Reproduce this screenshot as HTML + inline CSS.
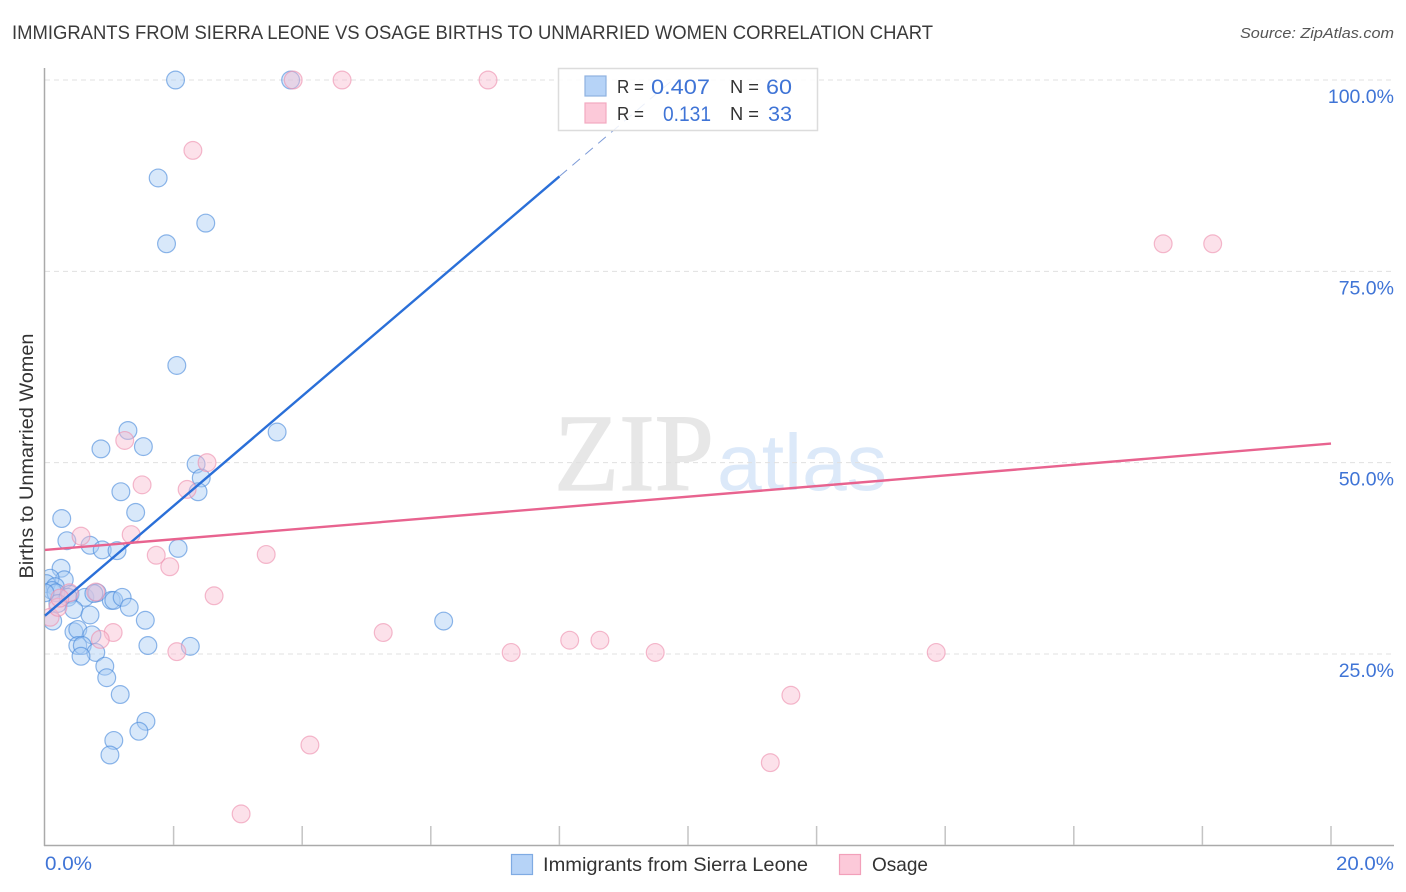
<!DOCTYPE html>
<html lang="en">
<head>
<meta charset="utf-8">
<title>Immigrants from Sierra Leone vs Osage Births to Unmarried Women Correlation Chart</title>
<style>
html,body{margin:0;padding:0;background:#fff;width:1406px;height:892px;overflow:hidden}
svg{display:block}
text{font-family:"Liberation Sans",sans-serif}
</style>
</head>
<body>
<svg id="chart" width="1406" height="892" viewBox="0 0 1406 892">
  <defs>
    <clipPath id="plot-clip"><rect x="45" y="60" width="1349" height="786"/></clipPath>
  </defs>
  <text x="12" y="39" font-size="19" fill="#3a3a3a" textLength="921" lengthAdjust="spacingAndGlyphs">IMMIGRANTS FROM SIERRA LEONE VS OSAGE BIRTHS TO UNMARRIED WOMEN CORRELATION CHART</text>
  <text x="1394" y="38" font-size="15" font-style="italic" fill="#555" text-anchor="end" textLength="154" lengthAdjust="spacingAndGlyphs">Source: ZipAtlas.com</text>
  <g id="watermark">
    <text x="554" y="490" font-size="110" fill="#e7e7e7" stroke="#e7e7e7" stroke-width="1.2" textLength="160" lengthAdjust="spacingAndGlyphs" style="font-family:'Liberation Serif',serif">ZIP</text>
    <text x="717" y="490" font-size="80" fill="#dce9f9" textLength="170" lengthAdjust="spacingAndGlyphs" style="font-family:'Liberation Sans',sans-serif">atlas</text>
  </g>
  <g id="grid"></g>
  <g id="axes"></g>
  <g id="trend-back"></g>
  <g id="points-blue" clip-path="url(#plot-clip)"></g>
  <g id="points-pink" clip-path="url(#plot-clip)"></g>
  <g id="trend"></g>
  <g id="ylabels"></g>
  <text transform="translate(33,456) rotate(-90)" font-size="19" fill="#333" text-anchor="middle" textLength="245" lengthAdjust="spacingAndGlyphs">Births to Unmarried Women</text>
  <text x="45" y="870" font-size="19" fill="#3f74d6" textLength="47" lengthAdjust="spacingAndGlyphs">0.0%</text>
  <text x="1394" y="870" font-size="19" fill="#3f74d6" text-anchor="end" textLength="58" lengthAdjust="spacingAndGlyphs">20.0%</text>

  <g>
    <rect x="558.5" y="68.5" width="259" height="62" fill="#fff" fill-opacity="0.85" stroke="#dcdcdc" stroke-width="1.5"/>
    <rect x="585" y="76" width="21" height="20" fill="#b6d3f7" stroke="#8fb2e0" stroke-width="1.2"/>
    <rect x="585" y="103" width="21" height="20" fill="#fcc9d9" stroke="#f2a9c0" stroke-width="1.2"/>
    <text x="617" y="93" font-size="18.5" fill="#333" textLength="27" lengthAdjust="spacingAndGlyphs">R =</text>
    <text x="710" y="94" font-size="21.5" fill="#3f74d6" text-anchor="end" textLength="59" lengthAdjust="spacingAndGlyphs">0.407</text>
    <text x="730" y="93" font-size="18.5" fill="#333" textLength="29" lengthAdjust="spacingAndGlyphs">N =</text>
    <text x="792" y="94" font-size="21.5" fill="#3f74d6" text-anchor="end" textLength="26" lengthAdjust="spacingAndGlyphs">60</text>
    <text x="617" y="120" font-size="18.5" fill="#333" textLength="27" lengthAdjust="spacingAndGlyphs">R =</text>
    <text x="711" y="121" font-size="21.5" fill="#3f74d6" text-anchor="end" textLength="48" lengthAdjust="spacingAndGlyphs">0.131</text>
    <text x="730" y="120" font-size="18.5" fill="#333" textLength="29" lengthAdjust="spacingAndGlyphs">N =</text>
    <text x="792" y="121" font-size="21.5" fill="#3f74d6" text-anchor="end" textLength="24" lengthAdjust="spacingAndGlyphs">33</text>
  </g>

  <g>
    <rect x="511.5" y="854.5" width="21" height="20" fill="#b6d3f7" stroke="#7fabe3" stroke-width="1.2"/>
    <text x="543" y="871" font-size="19.5" fill="#333" textLength="265" lengthAdjust="spacingAndGlyphs">Immigrants from Sierra Leone</text>
    <rect x="839.5" y="854.5" width="21" height="20" fill="#fcc9d9" stroke="#f2a0ba" stroke-width="1.2"/>
    <text x="872" y="871" font-size="19.5" fill="#333" textLength="56" lengthAdjust="spacingAndGlyphs">Osage</text>
  </g>
</svg>
<script>
// Data values: x = share of group (%), y = births to unmarried women (%)
const sierraLeoneX = [2.03,3.82,1.76,1.89,2.50,2.05,3.61,1.29,0.87,1.53,2.35,2.43,2.38,1.18,1.41,0.26,0.34,0.70,0.89,1.12,2.07,0.25,0.30,0.08,0.02,0.16,0.11,0.17,0.39,0.36,0.20,0.62,0.81,0.76,1.03,1.07,1.20,1.31,0.45,0.70,1.56,0.12,6.20,0.45,0.51,0.73,0.51,0.58,1.60,2.26,0.79,0.56,0.93,0.96,1.17,1.57,1.46,1.07,1.01,0.00];
const sierraLeoneY = [100,100,87.2,78.6,81.3,62.7,54.0,54.2,51.8,52.1,49.8,48.0,46.2,46.2,43.5,42.7,39.8,39.2,38.6,38.5,38.8,36.2,34.7,34.9,34.2,33.8,33.3,33.0,32.8,32.4,31.6,32.4,33.0,32.9,32.0,32.0,32.4,31.1,30.8,30.1,29.4,29.3,29.3,27.9,28.2,27.5,26.1,26.1,26.1,26.0,25.2,24.7,23.4,21.9,19.7,16.2,14.9,13.7,11.8,33.0];
const osageX = [3.86,4.62,6.89,2.30,17.39,18.16,1.24,2.52,1.51,2.21,1.34,0.56,1.73,1.94,3.44,2.63,0.38,0.79,0.08,0.20,0.23,1.06,0.86,5.26,8.16,8.63,7.25,9.49,13.86,2.05,11.60,11.28,4.12,3.05];
const osageY = [100,100,100,90.8,78.6,78.6,52.9,50.0,47.1,46.5,40.6,40.4,37.9,36.4,38.0,32.6,33.0,33.1,29.8,31.1,32.3,27.8,26.9,27.8,26.8,26.8,25.2,25.2,25.2,25.3,19.6,10.8,13.1,4.1];
const sierraLeoneTrendX = [0, 8.0, 9.76];
const sierraLeoneTrendY = [30.0, 87.4, 100];
const osageTrendX = [0, 20];
const osageTrendY = [38.6, 52.5];
const yTicks = [25, 50, 75, 100];
const yTickLabels = ["25.0%", "50.0%", "75.0%", "100.0%"];
const xTicks = [2, 4, 6, 8, 10, 12, 14, 16, 18, 20];

const NS = "http://www.w3.org/2000/svg";
const xScale = v => 45 + v * 64.3;
const yScale = v => 845.3 - v * 7.653;
function make(tag, attrs, parent) {
  const el = document.createElementNS(NS, tag);
  for (const k in attrs) el.setAttribute(k, attrs[k]);
  parent.appendChild(el);
  return el;
}
const grid = document.getElementById("grid");
const axes = document.getElementById("axes");
const ylabels = document.getElementById("ylabels");

yTicks.forEach((t, i) => {
  const y = yScale(t);
  const line = make("line", {x1: 45, x2: 1394, y1: y, y2: y, stroke: "#e0e0e0", "stroke-width": 1, "stroke-dasharray": "5 4"}, grid);
  
  
  const label = make("text", {x: 1394, y: y + 23, "font-size": 19.5, fill: "#3f74d6", "text-anchor": "end"}, ylabels);
  label.textContent = yTickLabels[i];
  
  
});

const yAxis = make("line", {x1: 44.5, x2: 44.5, y1: 68, y2: 846, stroke: "#aaa", "stroke-width": 1.5}, axes);


const xAxis = make("line", {x1: 44, x2: 1394, y1: 845.5, y2: 845.5, stroke: "#aaa", "stroke-width": 1.5}, axes);


xTicks.forEach(t => {
  const x = xScale(t);
  const tick = make("line", {x1: x, x2: x, y1: 826, y2: 845, stroke: "#c4c4c4", "stroke-width": 1.5}, axes);
  
  
});

const back = document.getElementById("trend-back");
const trend = document.getElementById("trend");
const blueExt = make("line", {x1: xScale(sierraLeoneTrendX[1]), y1: yScale(sierraLeoneTrendY[1]), x2: xScale(sierraLeoneTrendX[2]), y2: yScale(sierraLeoneTrendY[2]), stroke: "#7d9bd8", "stroke-width": 1, "stroke-dasharray": "10 7"}, back);



const bluePts = document.getElementById("points-blue");
sierraLeoneX.forEach((x, i) => {
  const c = make("circle", {cx: xScale(x), cy: yScale(sierraLeoneY[i]), r: 8.9, fill: "#a9cdf5", "fill-opacity": 0.45, stroke: "#4a8bdc", "stroke-opacity": 0.62, "stroke-width": 1.2}, bluePts);
  
  
});
const pinkPts = document.getElementById("points-pink");
osageX.forEach((x, i) => {
  const c = make("circle", {cx: xScale(x), cy: yScale(osageY[i]), r: 8.9, fill: "#f9bdd0", "fill-opacity": 0.45, stroke: "#ee8fae", "stroke-opacity": 0.62, "stroke-width": 1.2}, pinkPts);
  
  
});

const blueLine = make("line", {x1: xScale(sierraLeoneTrendX[0]), y1: yScale(sierraLeoneTrendY[0]), x2: xScale(sierraLeoneTrendX[1]), y2: yScale(sierraLeoneTrendY[1]), stroke: "#2a6fd8", "stroke-width": 2.4}, trend);


const pinkLine = make("line", {x1: xScale(osageTrendX[0]), y1: yScale(osageTrendY[0]), x2: xScale(osageTrendX[1]), y2: yScale(osageTrendY[1]), stroke: "#e8638f", "stroke-width": 2.4}, trend);


</script>
</body>
</html>
